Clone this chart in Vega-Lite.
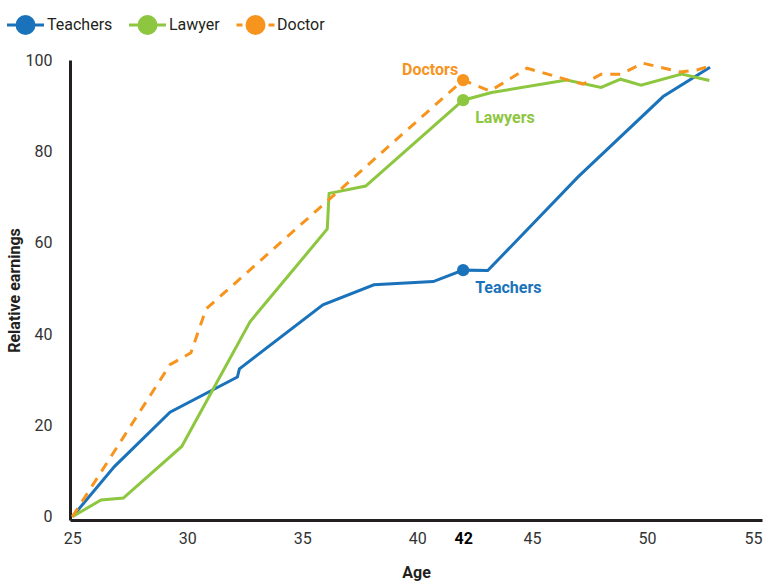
{
  "$schema": "https://vega.github.io/schema/vega-lite/v6.json",
  "width": 692,
  "height": 460,
  "autosize": {"type": "none"},
  "padding": {"left": 70, "top": 60, "right": 3, "bottom": 64},
  "background": "white",
  "config": {
    "view": {"stroke": null},
    "font": "Roboto",
    "axis": {
      "domainColor": "#231f20",
      "domainWidth": 3,
      "ticks": false,
      "grid": false,
      "labelFont": "Roboto",
      "labelFontSize": 16,
      "labelColor": "#333333",
      "titleFont": "Roboto",
      "titleFontSize": 16,
      "titleFontWeight": "bold",
      "titleColor": "#231f20"
    }
  },
  "datasets": {
    "lines": [
      {"series": "Teachers", "age": 25, "value": 0},
      {"series": "Teachers", "age": 26.83, "value": 11.0},
      {"series": "Teachers", "age": 29.25, "value": 22.9},
      {"series": "Teachers", "age": 32.18, "value": 30.6},
      {"series": "Teachers", "age": 32.27, "value": 32.4},
      {"series": "Teachers", "age": 35.9, "value": 46.4},
      {"series": "Teachers", "age": 38.12, "value": 50.8},
      {"series": "Teachers", "age": 40.7, "value": 51.5},
      {"series": "Teachers", "age": 42, "value": 54.0},
      {"series": "Teachers", "age": 43.07, "value": 53.9},
      {"series": "Teachers", "age": 47.0, "value": 74.4},
      {"series": "Teachers", "age": 50.7, "value": 92.0},
      {"series": "Teachers", "age": 52.74, "value": 98.4},
      {"series": "Lawyer", "age": 25, "value": 0},
      {"series": "Lawyer", "age": 26.25, "value": 3.7},
      {"series": "Lawyer", "age": 27.22, "value": 4.1},
      {"series": "Lawyer", "age": 29.76, "value": 15.4},
      {"series": "Lawyer", "age": 32.73, "value": 42.7},
      {"series": "Lawyer", "age": 36.09, "value": 63.0},
      {"series": "Lawyer", "age": 36.17, "value": 70.8},
      {"series": "Lawyer", "age": 37.76, "value": 72.4},
      {"series": "Lawyer", "age": 42, "value": 91.2},
      {"series": "Lawyer", "age": 43.24, "value": 92.9},
      {"series": "Lawyer", "age": 46.5, "value": 95.6},
      {"series": "Lawyer", "age": 48.0, "value": 94.0},
      {"series": "Lawyer", "age": 48.85, "value": 95.8},
      {"series": "Lawyer", "age": 49.74, "value": 94.5},
      {"series": "Lawyer", "age": 51.5, "value": 96.9},
      {"series": "Lawyer", "age": 52.71, "value": 95.5},
      {"series": "Doctor", "age": 25, "value": 0},
      {"series": "Doctor", "age": 29.25, "value": 33.3},
      {"series": "Doctor", "age": 30.16, "value": 35.9},
      {"series": "Doctor", "age": 30.82, "value": 45.5},
      {"series": "Doctor", "age": 42, "value": 95.6},
      {"series": "Doctor", "age": 43.17, "value": 93.2},
      {"series": "Doctor", "age": 44.78, "value": 98.2},
      {"series": "Doctor", "age": 47.21, "value": 94.7},
      {"series": "Doctor", "age": 48.0, "value": 96.9},
      {"series": "Doctor", "age": 48.87, "value": 96.9},
      {"series": "Doctor", "age": 49.82, "value": 99.3},
      {"series": "Doctor", "age": 51.43, "value": 97.4},
      {"series": "Doctor", "age": 52.17, "value": 97.8},
      {"series": "Doctor", "age": 52.74, "value": 98.7}
    ],
    "marks": [
      {"series": "Teachers", "age": 42, "value": 54.0, "label": "Teachers"},
      {"series": "Lawyer", "age": 42, "value": 91.2, "label": "Lawyers"},
      {"series": "Doctor", "age": 42, "value": 95.6, "label": "Doctors"}
    ],
    "ref": [{"age": 42}]
  },
  "encoding": {
    "x": {
      "field": "age",
      "type": "quantitative",
      "title": "Age",
      "scale": {"domain": [24.9, 55], "nice": false, "zero": false},
      "axis": {
        "values": [25, 30, 35, 40, 42, 45, 50, 55],
        "labelPadding": 10,
        "labelFlush": false,
        "labelOverlap": false,
        "titlePadding": 18,
        "labelAlign": {"condition": {"test": "datum.value === 55", "value": "right"}, "value": "center"},
        "labelFontWeight": {"condition": {"test": "datum.value === 42", "value": "bold"}, "value": "normal"},
        "labelColor": {"condition": {"test": "datum.value === 42", "value": "#000000"}, "value": "#333333"}
      }
    },
    "y": {
      "field": "value",
      "type": "quantitative",
      "title": "Relative earnings",
      "scale": {"domain": [-0.7, 100], "nice": false, "zero": false},
      "axis": {
        "values": [0, 20, 40, 60, 80, 100],
        "labelPadding": 18,
        "titlePadding": 3
      }
    }
  },
  "layer": [
    {
      "data": {"name": "ref"},
      "mark": {"type": "rule", "color": "#a3a3a3", "strokeWidth": 1.2},
      "encoding": {
        "y": {"datum": -0.7},
        "y2": {"datum": 100.7}
      }
    },
    {
      "data": {"name": "lines"},
      "transform": [{"filter": "datum.series !== 'Doctor'"}],
      "mark": {"type": "line", "strokeWidth": 3},
      "encoding": {
        "color": {
          "field": "series",
          "type": "nominal",
          "scale": {"domain": ["Teachers", "Lawyer", "Doctor"], "range": ["#1a73ba", "#8dc63f", "#f7941d"]},
          "legend": {
            "title": null,
            "orient": "none",
            "direction": "horizontal",
            "legendX": -56,
            "legendY": -46.5,
            "padding": 0,
            "symbolSize": 400,
            "symbolStrokeWidth": 3,
            "labelOffset": 10,
            "columnPadding": 10,
            "labelFont": "Roboto",
            "labelFontSize": 16,
            "labelColor": "#231f20",
            "encode": {
              "symbols": {
                "update": {
                  "shape": {"signal": "datum.value === 'Doctor' ? 'M-1.9,0L-1.3,0M1.3,0L1.9,0M-0.85,0A0.85,0.85 0 1,1 0.85,0A0.85,0.85 0 1,1 -0.85,0Z' : 'M-1.85,0L1.85,0M-0.85,0A0.85,0.85 0 1,1 0.85,0A0.85,0.85 0 1,1 -0.85,0Z'"},
                  "fill": {"signal": "scale('color', datum.value)"},
                  "stroke": {"signal": "scale('color', datum.value)"},
                  "strokeWidth": {"value": 3},
                  "opacity": {"value": 1}
                }
              }
            }
          }
        }
      }
    },
    {
      "data": {"name": "lines"},
      "transform": [{"filter": "datum.series === 'Doctor'"}],
      "mark": {"type": "line", "strokeWidth": 3, "strokeDash": [10, 8]},
      "encoding": {
        "color": {"field": "series", "type": "nominal", "legend": null}
      }
    },
    {
      "data": {"name": "marks"},
      "mark": {"type": "circle", "size": 150, "opacity": 1},
      "encoding": {
        "color": {"field": "series", "type": "nominal", "legend": null}
      }
    },
    {
      "data": {"name": "marks"},
      "transform": [{"filter": "datum.series === 'Doctor'"}],
      "mark": {"type": "text", "align": "right", "baseline": "middle", "dx": -5, "dy": -10, "font": "Roboto", "fontSize": 16, "fontWeight": "bold"},
      "encoding": {
        "text": {"field": "label"},
        "color": {"field": "series", "type": "nominal", "legend": null}
      }
    },
    {
      "data": {"name": "marks"},
      "transform": [{"filter": "datum.series !== 'Doctor'"}],
      "mark": {"type": "text", "align": "left", "baseline": "middle", "dx": 12, "dy": 18, "font": "Roboto", "fontSize": 16, "fontWeight": "bold"},
      "encoding": {
        "text": {"field": "label"},
        "color": {"field": "series", "type": "nominal", "legend": null}
      }
    }
  ]
}
